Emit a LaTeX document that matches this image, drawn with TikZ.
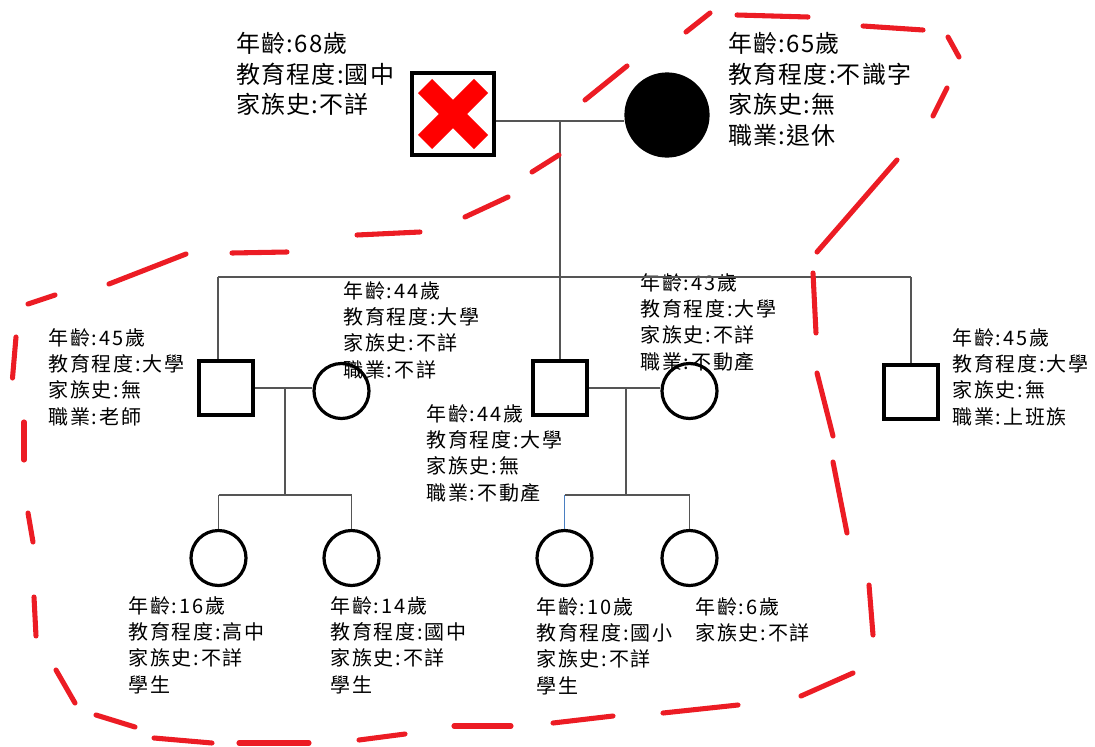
\documentclass[tikz,border=0pt]{standalone}
\usepackage{fontspec}
\newfontfamily\cjkbig[LetterSpace=5]{Noto Sans CJK TC}
\newfontfamily\cjkmid[LetterSpace=9]{Noto Sans CJK TC}
\definecolor{dashred}{HTML}{EC1C24}
\definecolor{xred}{HTML}{FF0000}
\definecolor{conngray}{HTML}{555555}
\definecolor{connblue}{HTML}{4A7FC1}
\begin{document}
\begin{tikzpicture}[x=0.75pt,y=-0.75pt,
  conn/.style={draw=conngray, line width=1pt},
  male/.style={draw, line width=2.4pt, minimum size=40.5pt, inner sep=0pt},
  female/.style={circle, draw, line width=2.4pt, minimum size=41.25pt, inner sep=0pt},
  big/.style={anchor=north west, inner sep=0pt, align=left, font=\cjkbig\fontsize{18}{22.9}\selectfont},
  info/.style={anchor=north west, inner sep=0pt, align=left, font=\cjkmid\fontsize{15}{19.8}\selectfont},
  redash/.style={draw=dashred, line width=3.8pt, line cap=round}]
\path[use as bounding box] (0,0) rectangle (1095,746);

% ---- texts
\node[big]  (T0)  at (236,32)  {年齡:68歲\\教育程度:國中\\家族史:不詳};
\node[big]  (T1)  at (728,32)  {年齡:65歲\\教育程度:不識字\\家族史:無\\職業:退休};
\node[info] (Ts1) at (48,328)  {年齡:45歲\\教育程度:大學\\家族史:無\\職業:老師};
\node[info] (Tw1) at (343,281) {年齡:44歲\\教育程度:大學\\家族史:不詳\\職業:不詳};
\node[info] (Ts2) at (426,404) {年齡:44歲\\教育程度:大學\\家族史:無\\職業:不動產};
\node[info] (Tw2) at (640,273) {年齡:43歲\\教育程度:大學\\家族史:不詳\\職業:不動產};
\node[info] (Ts3) at (952,328) {年齡:45歲\\教育程度:大學\\家族史:無\\職業:上班族};
\node[info] (Tc1) at (128,596) {年齡:16歲\\教育程度:高中\\家族史:不詳\\學生};
\node[info] (Tc2) at (330,596) {年齡:14歲\\教育程度:國中\\家族史:不詳\\學生};
\node[info] (Tc3) at (536,597) {年齡:10歲\\教育程度:國小\\家族史:不詳\\學生};
\node[info] (Tc4) at (695,597) {年齡:6歲\\家族史:不詳};

% ---- persons
\node[male, minimum size=61.5pt] (F) at (453,114) {};
\draw[xred, line width=15pt, line cap=butt] (425,86) -- (481,142);
\draw[xred, line width=15pt, line cap=butt] (481,86) -- (425,142);
\node[female, fill=black, minimum size=61.5pt] (M) at (667,115) {};

\node[male]   (S1) at (226,388) {};
\node[female] (W1) at (341.5,391) {};
\node[male]   (S2) at (560,388) {};
\node[female] (W2) at (689.5,391) {};
\node[male]   (S3) at (911,392) {};

\node[female] (C1) at (218.5,558) {};
\node[female] (C2) at (351.5,558) {};
\node[female] (C3) at (564.5,558) {};
\node[female] (C4) at (689.5,558) {};

% ---- connectors
\coordinate (m1) at (560,121);
\coordinate (sL) at (218,277);
\coordinate (sR) at (911,277);
\draw[conn] (F.east |- m1) -- (M.west |- m1);
\draw[conn] (m1) -- (S2.north);
\draw[conn] (sL) -- (sR);
\draw[conn] (sL) -- (sL |- S1.north);
\draw[conn] (sR) -- (S3.north);

\coordinate (m2) at (285,388);
\coordinate (k1) at (285,495);
\draw[conn] (S1.east |- m2) -- (W1.west |- m2);
\draw[conn] (m2) -- (k1);
\draw[conn] (C1.north |- k1) -- (C2.north |- k1);
\draw[conn] (C1.north |- k1) -- (C1.north);
\draw[conn] (C2.north |- k1) -- (C2.north);

\coordinate (m3) at (626,388);
\coordinate (k2) at (626,495);
\draw[conn] (S2.east |- m3) -- (W2.west |- m3);
\draw[conn] (m3) -- (k2);
\draw[conn] (C3.north |- k2) -- (C4.north |- k2);
\draw[conn, draw=connblue] (C3.north |- k2) -- (C3.north);
\draw[conn] (C4.north |- k2) -- (C4.north);

% ---- red hand-drawn dashed boundary
\foreach \a/\b in {
  {686,32}/{710,13}, {737,15}/{808,17}, {863,26}/{923,30}, {948,37}/{959,57},
  {947,88}/{933,116}, {897,160}/{817,252}, {813,273}/{816,333}, {817,373}/{833,436},
  {833,462}/{847,533}, {869,585}/{873,635}, {853,673}/{801,696}, {738,705}/{663,713},
  {613,716}/{553,723}, {511,726}/{454,726}, {405,734}/{359,740}, {309,743}/{239,743},
  {212,743}/{154,738}, {135,727}/{96,715}, {75,703}/{56,670}, {36,636}/{34,597},
  {33,542}/{28,513}, {24,460}/{24,422}, {12.5,378}/{16,337}, {28,304}/{55,295},
  {109,284}/{186,254}, {232,253}/{287,252}, {357,235}/{420,232}, {465,217}/{508,197},
  {532,172}/{559,155}, {585,100}/{627,66}}
  \draw[redash] (\a) -- (\b);
\end{tikzpicture}
\end{document}
